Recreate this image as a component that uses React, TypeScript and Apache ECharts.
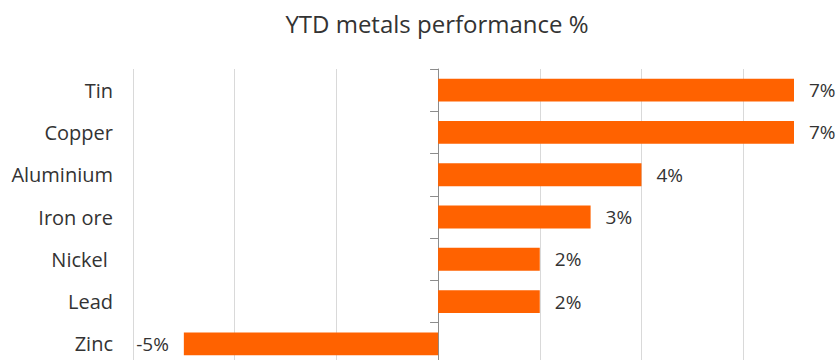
import React, { useEffect, useRef } from "react";
import * as echarts from "echarts";

const categories = ["Tin", "Copper", "Aluminium", "Iron ore", "Nickel ", "Lead", "Zinc"];
const values = [7, 7, 4, 3, 2, 2, -5];
const titleText = "YTD metals performance %";

const FONT = "'Open Sans', sans-serif";
const TEXT = "#333333";
const ORANGE = "#FF6200";

export default function App() {
  const ref = useRef<HTMLDivElement>(null);
  useEffect(() => {
    if (!ref.current) return;
    const chart = echarts.init(ref.current, undefined, { renderer: "svg" });
    const cats = [...categories].reverse();
    const vals = [...values].reverse();
    chart.setOption({
      animation: false,
      title: {
        text: titleText,
        left: 432,
        textAlign: "center",
        top: 6,
        textStyle: { fontFamily: FONT, fontSize: 24, fontWeight: "normal", color: TEXT },
      },
      grid: { left: 133, right: 46, top: 69, height: 296, outerBoundsMode: "none", containLabel: false },
      xAxis: {
        type: "value",
        min: -6,
        max: 7,
        interval: 2,
        axisLabel: { show: false },
        axisLine: { show: false },
        axisTick: { show: false },
        splitLine: { show: true, showMaxLine: false, lineStyle: { color: "#d9d9d9", width: 1 } },
      },
      yAxis: {
        type: "category",
        data: cats,
        axisLine: { show: true, onZero: true, lineStyle: { color: "#8c8c8c", width: 1 } },
        axisTick: { show: true, length: 8, lineStyle: { color: "#8c8c8c" } },
        axisLabel: {
          margin: 20,
          fontFamily: FONT,
          fontSize: 20,
          color: TEXT,
          align: "right",
        },
        splitLine: { show: false },
      },
      series: [
        {
          type: "bar",
          data: vals.map((v) => ({
            value: v,
            label: { position: v < 0 ? "left" : "right" },
          })),
          barCategoryGap: "46%",
          itemStyle: { color: ORANGE },
          label: {
            show: true,
            distance: 15,
            fontFamily: FONT,
            fontSize: 19,
            color: TEXT,
            formatter: (p: any) => `${p.value}%`,
          },
        },
      ],
    });
    return () => chart.dispose();
  }, []);
  return <div ref={ref} style={{ width: 840, height: 360, position: "absolute", left: 0, top: 0 }} />;
}
